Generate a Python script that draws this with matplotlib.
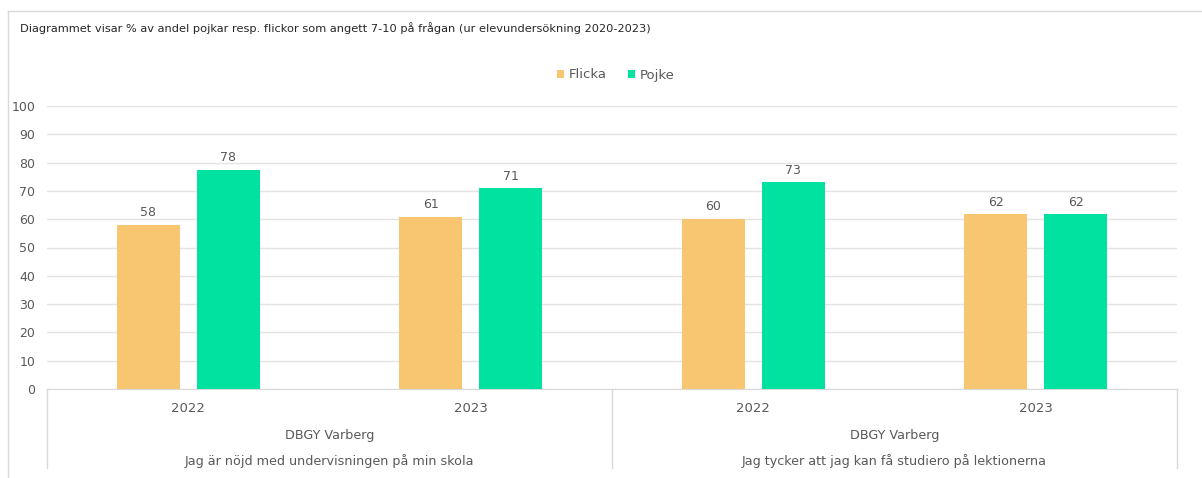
import matplotlib.pyplot as plt
import numpy as np
from matplotlib.lines import Line2D

plt.rcParams['font.family'] = ['DejaVu Sans']

years = ['2022', '2023', '2022', '2023']
school = 'DBGY Varberg'
questions = ['Jag är nöjd med undervisningen på min skola',
             'Jag tycker att jag kan få studiero på lektionerna']
flicka = [58, 60.8, 60.1, 61.8]
pojke = [77.5, 71, 73.1, 61.8]
title = 'Diagrammet visar % av andel pojkar resp. flickor som angett 7-10 på frågan (ur elevundersökning 2020-2023)'

col_f = '#F8C670'
col_p = '#01E19F'
txt = '#595959'
grid = '#E3E3E3'

W, H = 1202, 478
fig = plt.figure(figsize=(W / 100, H / 100), dpi=100)


def fx(px):
    return px / W


def fy(py):
    return 1 - py / H


# chart area border: only top and left edges are inside the crop
fig.add_artist(Line2D([fx(8), 1], [fy(11), fy(11)], color='#D9D9D9', lw=1,
                      transform=fig.transFigure))
fig.add_artist(Line2D([fx(8), fx(8)], [fy(11), 0], color='#D9D9D9', lw=1,
                      transform=fig.transFigure))

ax = fig.add_axes([fx(47), fy(389), fx(1177) - fx(47), fy(106) - fy(389)])
x = np.arange(len(years))
w = 0.223
off = 0.142
bf = ax.bar(x - off, flicka, w, color=col_f, label='Flicka', zorder=3)
bp = ax.bar(x + off, pojke, w, color=col_p, label='Pojke', zorder=3)

for bars, vals in [(bf, flicka), (bp, pojke)]:
    for b, v in zip(bars, vals):
        ax.annotate(f'{round(v)}', (b.get_x() + b.get_width() / 2, v),
                    xytext=(0, 4), textcoords='offset points',
                    ha='center', va='bottom', fontsize=9, color=txt)

ax.set_xlim(-0.5, len(years) - 0.5)
ax.set_ylim(0, 100)
ax.set_yticks(range(0, 101, 10))
ax.tick_params(axis='y', length=0, pad=8.5, labelsize=9, labelcolor=txt)
ax.set_xticks([])
ax.grid(axis='y', color=grid, lw=1, zorder=0)
for s in ['top', 'right', 'left']:
    ax.spines[s].set_visible(False)
ax.spines['bottom'].set_color('#D9D9D9')

# multi-level category axis
for i, yr in enumerate(years):
    fig.text(ax.transData.transform((i, 0))[0] / W, fy(408), yr,
             ha='center', va='center', fontsize=9.5, color=txt)
for j, q in enumerate(questions):
    cx = ax.transData.transform((2 * j + 0.5, 0))[0] / W
    fig.text(cx, fy(435), school, ha='center', va='center', fontsize=9.2, color=txt)
    fig.text(cx, fy(461), q, ha='center', va='center', fontsize=9.2, color=txt)
for xs in [-0.5, 1.5, 3.5]:
    px = ax.transData.transform((xs, 0))[0] / W
    fig.add_artist(Line2D([px, px], [fy(389), fy(468)], color='#D9D9D9', lw=1,
                          transform=fig.transFigure))

fig.text(fx(20), fy(28), title, ha='left', va='center', fontsize=8.2, color='#262626')

fig.legend(handles=[bf, bp], loc='center', bbox_to_anchor=(fx(616), fy(75)),
           ncol=2, frameon=False, fontsize=9.5, labelcolor=txt,
           handlelength=0.5, handleheight=0.5, handletextpad=0.4, columnspacing=1.6)

fig.savefig('out.png', dpi=100, facecolor='white')
